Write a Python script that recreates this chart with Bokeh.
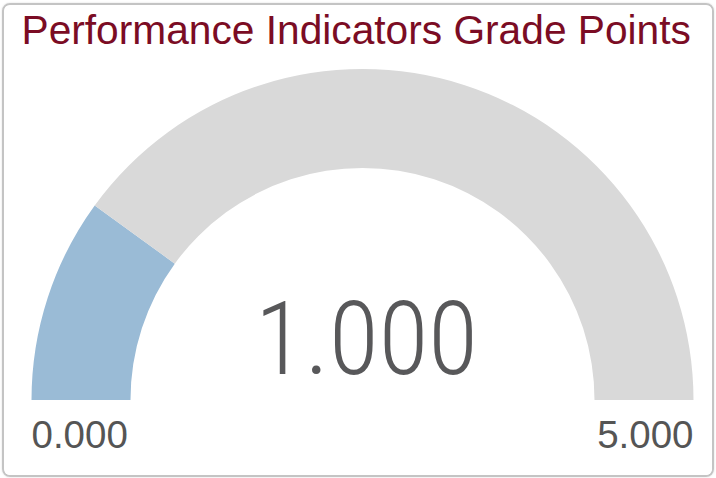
import math
from bokeh.plotting import figure
from bokeh.models import Range1d
from bokeh.core.properties import value
from bokeh.embed import file_html
from bokeh.resources import INLINE

# ---- data ----
title_text = "Performance Indicators Grade Points"
gauge_min = 0.0
gauge_max = 5.0
gauge_value = 1.0
value_label = "1.000"
min_label = "0.000"
max_label = "5.000"

# ---- layout (page pixel coordinates, y measured upward) ----
W, H = 712, 474
X0, Y0 = 2, 3            # page position of the card
BW = 2                   # css border width (canvas starts inside it)
PAGE_H = 478
def Y(y):
    return PAGE_H - y

def base(y, size):
    # place an alphabetic baseline at page y for a font of given px size
    return Y(y) + 0.4 * size

p = figure(width=W, height=H, output_backend="svg", toolbar_location=None,
           x_range=Range1d(X0 + BW, X0 + BW + W),
           y_range=Range1d(PAGE_H - (Y0 + BW + H), PAGE_H - (Y0 + BW)),
           min_border=0, background_fill_color="white", border_fill_color="white",
           styles={"position": "absolute", "left": f"{X0}px", "top": f"{Y0}px",
                   "border": f"{BW}px solid #c4c4c4", "border-radius": "8px",
                   "box-sizing": "border-box", "overflow": "hidden",
                   "box-shadow": "0 0 2px rgba(0,0,0,0.15)"})
p.axis.visible = False
p.grid.visible = False
p.outline_line_color = None

cx, cy = 362, Y(399.5)
r_in, r_out = 232, 331

frac = (gauge_value - gauge_min) / (gauge_max - gauge_min)
a_val = math.pi * (1 - frac)

p.annular_wedge(x=[cx], y=[cy], inner_radius=r_in, outer_radius=r_out,
                start_angle=[math.pi], end_angle=[a_val], direction="clock",
                fill_color="#9abbd6", line_color=None)
p.annular_wedge(x=[cx], y=[cy], inner_radius=r_in, outer_radius=r_out,
                start_angle=[a_val], end_angle=[0], direction="clock",
                fill_color="#d9d9d9", line_color=None)

ts, vs, ls = 40.7, 102, 38.5
p.text(x=[21], y=[base(46, ts)], text=[title_text], text_font=value("Liberation Sans"),
       text_font_size=f"{ts}px", text_color="#7b0c24", text_baseline="alphabetic", text_align="left")

p.text(x=[366], y=[base(378, vs)], text=[value_label], text_font=value("Roboto Condensed Light"),
       text_font_size=f"{vs}px", text_color="#58585a", text_baseline="alphabetic", text_align="center")

p.text(x=[31], y=[base(449, ls)], text=[min_label], text_font=value("Liberation Sans"),
       text_font_size=f"{ls}px", text_color="#555555", text_baseline="alphabetic", text_align="left")
p.text(x=[693], y=[base(449, ls)], text=[max_label], text_font=value("Liberation Sans"),
       text_font_size=f"{ls}px", text_color="#555555", text_baseline="alphabetic", text_align="right")

open("out.html", "w").write(file_html(p, INLINE))
